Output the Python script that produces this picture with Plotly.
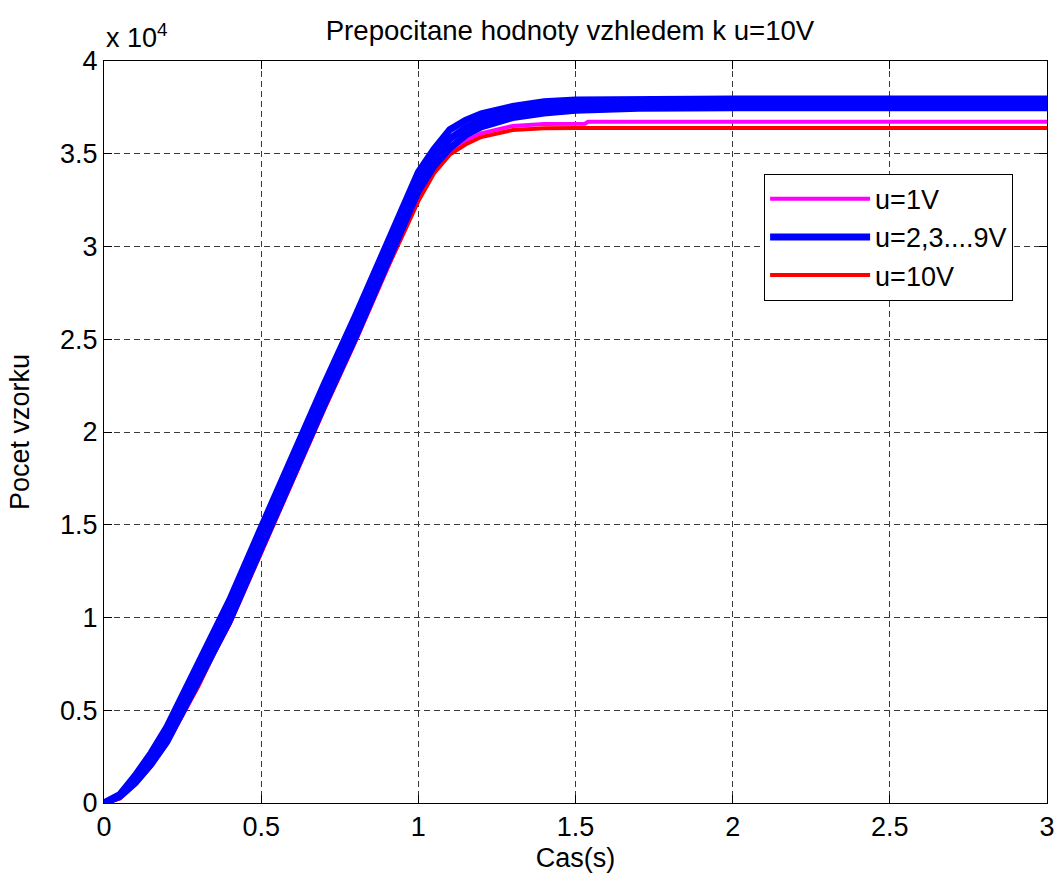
import plotly.graph_objects as go

# time axis (s)
t = [0, 0.05, 0.1, 0.15, 0.2, 0.25, 0.3, 0.35, 0.4, 0.5, 0.6, 0.7, 0.8, 0.9,
     0.95, 1.0, 1.05, 1.1, 1.15, 1.2, 1.3, 1.4, 1.5, 1.7, 2.0, 2.5, 3.0]

# sample counts (in units of 1e4, stored as raw counts)
blue_hi = [0, 450, 1500, 2700, 4100, 5850, 7550, 9350, 10950, 14850, 18750, 22550, 26250, 30150,
           32050, 34000, 35250, 36300, 36800, 37150, 37550, 37800, 37900, 37950, 37950, 37950, 37950]
blue_mid = [0, 400, 1300, 2400, 3700, 5400, 7000, 8800, 10400, 14300, 18200, 22000, 25700, 29600,
            31500, 33500, 34800, 35800, 36400, 36800, 37250, 37500, 37600, 37700, 37720, 37720, 37720]
blue_lo = [0, 350, 1100, 2100, 3300, 4950, 6450, 8250, 9850, 13750, 17650, 21450, 25150, 29050,
           30950, 33000, 34350, 35300, 36000, 36450, 36950, 37200, 37350, 37450, 37480, 37480, 37480]
red = [0, 250, 1000, 2000, 3200, 4800, 6300, 8050, 9650, 13500, 17400, 21200, 24900, 28800,
       30600, 32450, 33950, 34950, 35500, 35900, 36280, 36380, 36390, 36390, 36390, 36390, 36390]

t_mag = [0, 0.05, 0.1, 0.15, 0.2, 0.25, 0.3, 0.35, 0.4, 0.5, 0.6, 0.7, 0.8, 0.9,
         0.95, 1.0, 1.05, 1.1, 1.15, 1.2, 1.3, 1.4, 1.53, 1.54, 1.7, 2.0, 2.5, 3.0]
magenta = [0, 250, 1000, 2000, 3200, 4800, 6300, 8050, 9650, 13500, 17400, 21200, 24900, 28800,
           30650, 32600, 34100, 35150, 35700, 36100, 36500, 36600, 36620, 36720, 36720, 36720, 36720, 36720]

x_ticks = [0, 0.5, 1, 1.5, 2, 2.5, 3]
x_tick_labels = ["0", "0.5", "1", "1.5", "2", "2.5", "3"]
y_ticks = [0, 5000, 10000, 15000, 20000, 25000, 30000, 35000, 40000]
y_tick_labels = ["0", "0.5", "1", "1.5", "2", "2.5", "3", "3.5", "4"]

FONT = "Liberation Sans, Arial, sans-serif"
FS = 27

fig = go.Figure()
fig.add_trace(go.Scatter(x=t_mag, y=magenta, mode="lines", name="u=1V",
                         line=dict(color="#FF00FF", width=4), legendrank=1))
fig.add_trace(go.Scatter(x=t, y=red, mode="lines", name="u=10V",
                         line=dict(color="#FF0000", width=4), legendrank=3))
for i, ys in enumerate([blue_lo, blue_mid, blue_hi]):
    fig.add_trace(go.Scatter(x=t, y=ys, mode="lines", name="u=2,3....9V",
                             line=dict(color="#0000FF", width=7), legendrank=2,
                             legendgroup="blue", showlegend=(i == 1)))

axis_common = dict(
    showline=True, linecolor="black", linewidth=1, mirror="ticks",
    ticks="inside", ticklen=8, tickcolor="black", automargin=False,
    showgrid=True, gridcolor="#3a3a3a", gridwidth=1, griddash="6px,4px",
    zeroline=False, tickfont=dict(family=FONT, size=FS, color="black"),
)

fig.update_layout(
    width=1058, height=878,
    margin=dict(l=104, r=11, t=61, b=75),
    paper_bgcolor="white", plot_bgcolor="white",
    font=dict(family=FONT, size=FS, color="black"),
    title=dict(text="Prepocitane hodnoty vzhledem k u=10V", x=570 / 1058, xanchor="center",
               y=1 - 30 / 878, yanchor="middle", font=dict(family=FONT, size=27.6)),
    xaxis=dict(range=[0, 3], tickvals=x_ticks, ticktext=x_tick_labels,
               title=dict(text="Cas(s)", standoff=6, font=dict(size=FS)), **axis_common),
    yaxis=dict(range=[0, 40000], tickvals=y_ticks, ticktext=y_tick_labels,
               title=dict(text="Pocet vzorku", standoff=22, font=dict(size=FS)), **axis_common),
    legend=dict(x=0.70, y=0.848, xanchor="left", yanchor="top",
                bgcolor="white", bordercolor="black", borderwidth=1,
                font=dict(family=FONT, size=FS), itemwidth=100,
                traceorder="normal"),
    showlegend=True,
)

fig.add_annotation(text="x 10<sup>4</sup>", xref="paper", yref="paper", x=0, y=1,
                   xanchor="left", yanchor="bottom", yshift=6, showarrow=False,
                   font=dict(family=FONT, size=FS))

fig.write_html("out.html")
